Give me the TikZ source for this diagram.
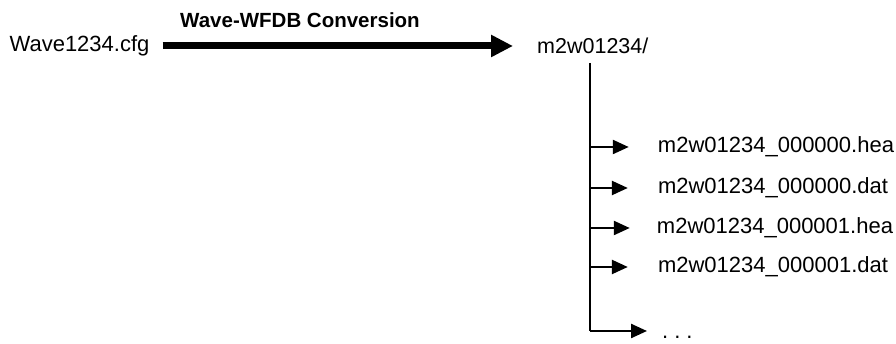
\documentclass[tikz,border=0pt]{standalone}
\usepackage{fontspec}
\setmainfont{Liberation Sans}
\usetikzlibrary{arrows.meta}

\begin{document}
\begin{tikzpicture}[x=1pt,y=1pt]
    \useasboundingbox (0,0) rectangle (896,344);

    \begin{scope}[every node/.style={inner sep=0pt,font=\fontsize{22}{26}\selectfont}]
        \node (cfg) at (79.5,298) {Wave1234.cfg};
        \node[font=\fontsize{20.5}{24}\selectfont\bfseries] (title) at (300,324) {Wave-WFDB Conversion};
        \node[anchor=west,font=\fontsize{21.5}{26}\selectfont] (dir) at (537,298) {m2w01234/};
    \end{scope}

    \begin{scope}[every node/.style={inner sep=0pt,font=\fontsize{22}{26}\selectfont}]
        \node (f1) at (776,197) {m2w01234\_000000.hea};
        \node (f2) at (773,156) {m2w01234\_000000.dat};
        \node (f3) at (775,116) {m2w01234\_000001.hea};
        \node (f4) at (773,77) {m2w01234\_000001.dat};
        \node[anchor=base west] (more) at (662,5) {.\hspace{6pt}.\hspace{6pt}.};
    \end{scope}

    % trunk of the directory listing
    \coordinate (top) at (590,281);
    \coordinate (b1) at (590,197);
    \coordinate (b2) at (590,156);
    \coordinate (b3) at (590,116);
    \coordinate (b4) at (590,77);
    \coordinate (corner) at (590,13);
    \draw [line width=2.4pt] (top) -- (corner);

    \begin{scope}[>={Triangle[length=22pt,width=21pt]},
                  every edge/.style={draw=black,line width=7pt}]
        \path [->,shorten <=13pt,shorten >=24pt] (cfg) edge (dir);
    \end{scope}

    \begin{scope}[>={Triangle[length=16pt,width=14pt]},
                  every edge/.style={draw=black,line width=2.4pt}]
        \path [->,shorten >=29pt] (b1) edge (f1.west);
        \path [->,shorten >=30pt] (b2) edge (f2.west);
        \path [->,shorten >=27pt] (b3) edge (f3.west);
        \path [->,shorten >=30pt] (b4) edge (f4.west);
        \path [->,shorten >=15pt] (corner) edge (corner -| more.west);
    \end{scope}
\end{tikzpicture}
\end{document}
